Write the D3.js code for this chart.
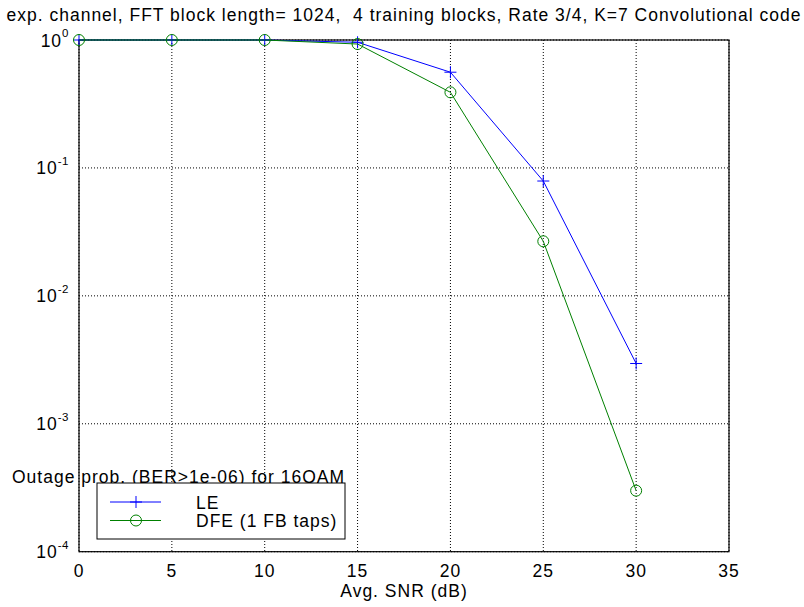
<!DOCTYPE html>
<html>
<head>
<meta charset="utf-8">
<script src="https://cdn.jsdelivr.net/npm/d3@7/dist/d3.min.js"></script>
<style>
  html, body { margin: 0; padding: 0; background: #fff; }
  svg { display: block; font-family: "Liberation Sans", Arial, Helvetica, sans-serif; }
  svg text { white-space: pre; letter-spacing: 1px; }
</style>
</head>
<body>
<svg id="chart" width="804" height="607"></svg>
<script>
// SNR points (dB) and outage probabilities per equalizer
const snr = [0, 5, 10, 15, 20, 25, 30];
const outageLE = [1, 1, 1, 0.96, 0.56, 0.079, 0.00296];
const outageDFE = [1, 1, 1, 0.93, 0.39, 0.0267, 0.0003];
const seriesNames = ["LE", "DFE (1 FB taps)"];
const seriesColors = ["#0000ff", "#008000"];
const xTicks = [0, 5, 10, 15, 20, 25, 30, 35];
const yExponents = [0, -1, -2, -3, -4];

const titleText = "exp. channel, FFT block length= 1024,  4 training blocks, Rate 3/4, K=7 Convolutional code";
const xLabelText = "Avg. SNR (dB)";
const yLabelText = "Outage prob. (BER>1e-06) for 16QAM";

const svg = d3.select("#chart");
const plot = { left: 79, right: 729, top: 40, bottom: 551.7 };

const x = d3.scaleLinear().domain([0, 35]).range([plot.left, plot.right]);
const y = d3.scaleLog().domain([1e-4, 1]).range([plot.bottom, plot.top]);

const fontSize = 17.5;

// dotted grid
const grid = svg.append("g");
grid.selectAll("line.vx").data(xTicks).join("line")
  .attr("x1", d => x(d)).attr("x2", d => x(d))
  .attr("y1", plot.top).attr("y2", plot.bottom)
  .attr("stroke", "#000").attr("stroke-width", 1).attr("stroke-dasharray", "1,2");
grid.selectAll("line.hy").data(yExponents).join("line")
  .attr("x1", plot.left).attr("x2", plot.right)
  .attr("y1", d => y(Math.pow(10, d))).attr("y2", d => y(Math.pow(10, d)))
  .attr("stroke", "#000").attr("stroke-width", 1).attr("stroke-dasharray", "1,2");

// axes box
svg.append("rect")
  .attr("x", plot.left).attr("y", plot.top)
  .attr("width", plot.right - plot.left).attr("height", plot.bottom - plot.top)
  .attr("fill", "none").attr("stroke", "#000").attr("stroke-width", 1.2);

// x tick labels
svg.append("g").selectAll("text").data(xTicks).join("text")
  .attr("x", d => x(d)).attr("y", plot.bottom + 25)
  .attr("text-anchor", "middle").attr("font-size", fontSize)
  .text(d => d);

// y tick labels as powers of ten, right-aligned against the axis
const yl = svg.append("g").selectAll("text").data(yExponents).join("text")
  .attr("y", d => y(Math.pow(10, d)) + 6.5)
  .attr("font-size", fontSize);
yl.append("tspan").text("10");
yl.append("tspan").attr("dy", -9.5).attr("font-size", 11.5).style("letter-spacing", "0.5px").text(d => d);
yl.each(function() {
  const w = this.getComputedTextLength();
  d3.select(this).attr("x", plot.left - 10 - w);
});

// title and axis labels
svg.append("text").attr("x", (plot.left + plot.right) / 2).attr("y", 21)
  .attr("text-anchor", "middle").attr("font-size", fontSize).text(titleText);
svg.append("text").attr("x", (plot.left + plot.right) / 2).attr("y", 597)
  .attr("text-anchor", "middle").attr("font-size", fontSize).text(xLabelText);
svg.append("text").attr("x", 12).attr("y", 483)
  .attr("font-size", fontSize).text(yLabelText);

// data lines and markers
const series = [outageLE, outageDFE];
const line = d3.line().x((d, i) => x(snr[i])).y(d => y(d));
function drawMarker(g, kind, color, cx, cy) {
  if (kind === 0) {
    g.append("line").attr("x1", cx - 6).attr("x2", cx + 6).attr("y1", cy).attr("y2", cy)
      .attr("stroke", color).attr("stroke-width", 1);
    g.append("line").attr("x1", cx).attr("x2", cx).attr("y1", cy - 6).attr("y2", cy + 6)
      .attr("stroke", color).attr("stroke-width", 1);
  } else {
    g.append("circle").attr("cx", cx).attr("cy", cy).attr("r", 5.5)
      .attr("fill", "none").attr("stroke", color).attr("stroke-width", 1);
  }
}
series.forEach((vals, k) => {
  const g = svg.append("g");
  g.append("path").datum(vals).attr("d", line)
    .attr("fill", "none").attr("stroke", seriesColors[k]).attr("stroke-width", 1);
  vals.forEach((v, i) => drawMarker(g, k, seriesColors[k], x(snr[i]), y(v)));
});

// legend
const leg = svg.append("g");
leg.append("rect").attr("x", 97).attr("y", 483).attr("width", 248).attr("height", 56)
  .attr("fill", "#fff").attr("stroke", "#000").attr("stroke-width", 1);
seriesNames.forEach((name, k) => {
  const ly = 502 + k * 18.5;
  leg.append("line").attr("x1", 110).attr("x2", 161).attr("y1", ly).attr("y2", ly)
    .attr("stroke", seriesColors[k]).attr("stroke-width", 1);
  drawMarker(leg, k, seriesColors[k], 136, ly);
  leg.append("text").attr("x", 196).attr("y", ly + 6.5).attr("font-size", fontSize).text(name);
});
</script>
</body>
</html>
